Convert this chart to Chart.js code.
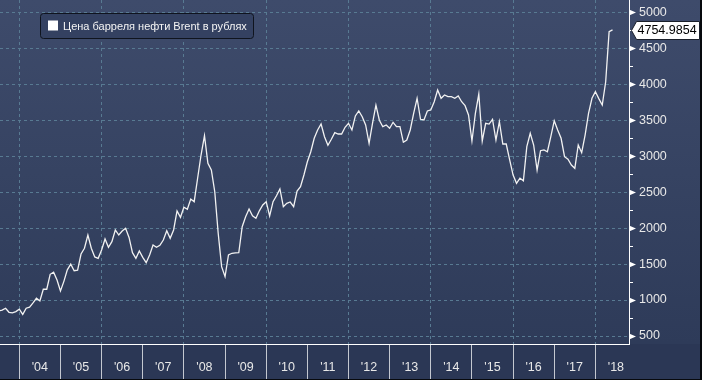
<!DOCTYPE html>
<html>
<head>
<meta charset="utf-8">
<script src="https://cdn.jsdelivr.net/npm/chart.js@4/dist/chart.umd.min.js"></script>
<style>
  html, body { margin: 0; padding: 0; background: #2b3856; }
  #wrap { width: 702px; height: 380px; position: relative; }
</style>
</head>
<body>
<div id="wrap"><canvas id="brentChart"></canvas></div>
<script>
// Brent price in rubles, monthly, Jul 2003 .. May 2018
const seriesLabel = 'Цена барреля нефти Brent в рублях';
const firstMonth = -6; // months counted from Jan 2004
const brentRub = [
  850, 860, 886, 830, 822, 840,
  872, 800, 886, 900, 960, 1025, 987, 1150, 1150, 1358, 1386, 1279,
  1126, 1260, 1420, 1500, 1408, 1415, 1640, 1720, 1904, 1720, 1600, 1580,
  1696, 1849, 1734, 1811, 1974, 1904, 1960, 1998, 1870, 1658, 1580, 1682,
  1594, 1519, 1626, 1765, 1733, 1761, 1835, 1964, 1858, 1974, 2238, 2150,
  2290, 2262, 2405, 2367, 2693, 3016, 3285, 2901, 2808, 2506, 1928, 1464,
  1325, 1626, 1650, 1655, 1658, 2020, 2159, 2266, 2170, 2136, 2240, 2322,
  2367, 2169, 2367, 2450, 2544, 2298, 2345, 2363, 2298, 2516, 2576, 2738,
  2923, 3062, 3249, 3364, 3447, 3271, 3151, 3235, 3327, 3308, 3308, 3401,
  3457, 3364, 3559, 3628, 3549, 3434, 3179, 3457, 3710, 3500, 3410, 3434,
  3388, 3471, 3410, 3410, 3193, 3225, 3364, 3596, 3805, 3513, 3503, 3628,
  3642, 3757, 3920, 3805, 3850, 3827, 3827, 3805, 3837, 3757, 3702, 3572,
  3211, 3596, 3864, 3211, 3457, 3447, 3513, 3225, 3479, 3169, 3169, 2947,
  2738, 2623, 2693, 2659, 3132, 3318, 3155, 2808, 3076, 3086, 3062, 3271,
  3493, 3364, 3249, 2993, 2957, 2877, 2831, 3155, 3048, 3294, 3596, 3805,
  3896, 3800, 3711, 4035, 4730, 4754.9854
];
const years = [2004, 2005, 2006, 2007, 2008, 2009, 2010, 2011, 2012, 2013, 2014, 2015, 2016, 2017, 2018];
const yLabels = [500, 1000, 1500, 2000, 2500, 3000, 3500, 4000, 4500, 5000];

const points = brentRub.map((v, i) => ({ x: firstMonth + i, y: v }));

const gridColor = '#587a92';
const labelColor = '#e8e8e8';
const axisFont = { family: "'Liberation Sans', Arial, sans-serif", size: 12.5 };

// background gradient + darker strip under the date axis
const chartBg = {
    id: 'chartBg',
    beforeDraw(chart) {
        const { ctx, width, height, chartArea } = chart;
        const g = ctx.createLinearGradient(0, 0, 0, chartArea.bottom);
        g.addColorStop(0, '#3e4b6b');
        g.addColorStop(1, '#2e3b59');
        ctx.save();
        ctx.fillStyle = g;
        ctx.fillRect(0, 0, width, chartArea.bottom);
        ctx.fillStyle = '#2b3755';
        ctx.fillRect(0, chartArea.bottom, width, height - chartArea.bottom);
        ctx.restore();
    }
};

// boxed legend in the top-left corner
const legendBox = {
    id: 'legendBox',
    afterDatasetsDraw(chart) {
        const c = chart.ctx;
        c.save();
        c.beginPath();
        c.roundRect(40.5, 13.5, 213, 25, 3);
        c.fillStyle = '#344161';
        c.fill();
        c.strokeStyle = '#0f141e';
        c.lineWidth = 1;
        c.stroke();
        c.fillStyle = '#ffffff';
        c.fillRect(48, 20.5, 10, 10);
        c.font = "11px 'Liberation Sans', Arial, sans-serif";
        c.textBaseline = 'middle';
        c.fillStyle = '#f4f4f4';
        c.fillText(chart.data.datasets[0].label, 63, 26.5);
        c.restore();
    }
};

// arrow marks on the value axis and the last-value tag
const axisMarks = {
    id: 'axisMarks',
    afterDraw(chart) {
        const c = chart.ctx;
        const ys = chart.scales.y;
        const x0 = ys.left;
        c.save();
        c.fillStyle = '#ffffff';
        yLabels.forEach(v => {
            const p = Math.round(ys.getPixelForValue(v)) + 0.5;
            c.beginPath();
            c.moveTo(x0, p - 3);
            c.lineTo(x0 + 7, p);
            c.lineTo(x0, p + 3);
            c.closePath();
            c.fill();
        });

        const data = chart.data.datasets[0].data;
        const last = data[data.length - 1].y;
        const p = Math.round(ys.getPixelForValue(last)) + 0.5;
        c.beginPath();
        c.moveTo(x0 + 2.5, p);
        c.lineTo(x0 + 7.5, p - 9);
        c.lineTo(699.5, p - 9);
        c.lineTo(699.5, p + 9);
        c.lineTo(x0 + 7.5, p + 9);
        c.closePath();
        c.fillStyle = '#ffffff';
        c.fill();
        c.strokeStyle = '#1a1f2a';
        c.lineWidth = 1;
        c.stroke();
        c.fillStyle = '#000000';
        c.font = "12.5px 'Liberation Sans', Arial, sans-serif";
        c.textBaseline = 'middle';
        c.fillText(last.toFixed(4), x0 + 8.5, p + 0.5);

        // frame edges
        c.fillStyle = '#07090d';
        c.fillRect(0, chart.height - 1, chart.width, 1);
        c.fillRect(chart.width - 2, 0, 2, chart.height);
        c.restore();
    }
};

const ctx = document.getElementById('brentChart').getContext('2d');
new Chart(ctx, {
    type: 'line',
    data: {
        datasets: [{
            label: seriesLabel,
            data: points,
            borderColor: '#f2f2f2',
            borderWidth: 1.3,
            pointRadius: 0,
            tension: 0
        }]
    },
    options: {
        responsive: true,
        maintainAspectRatio: false,
        animation: false,
        layout: { padding: 0 },
        plugins: { legend: { display: false }, tooltip: { enabled: false } },
        scales: {
            x: {
                type: 'linear',
                position: 'bottom',
                min: -5.63,
                max: 177.8,
                afterBuildTicks: s => { s.ticks = years.map(y => ({ value: (y - 2004) * 12 })); },
                afterFit: s => { s.height = 36; s.paddingLeft = 0; s.paddingRight = 0; },
                grid: {
                    color: c => (c.tick && (c.tick.value / 12) % 2 === 0) ? gridColor : 'rgba(0,0,0,0)',
                    tickColor: '#c4c8d0',
                    tickLength: 36
                },
                border: { color: '#ffffff', dash: [3, 3] },
                ticks: {
                    color: labelColor,
                    font: axisFont,
                    padding: -19.5,
                    labelOffset: 20.5,
                    autoSkip: false,
                    maxRotation: 0,
                    callback: v => "'" + String(2004 + v / 12).slice(2)
                }
            },
            y: {
                type: 'linear',
                position: 'right',
                min: 389,
                max: 5171,
                afterBuildTicks: s => {
                    const t = [];
                    for (let v = yLabels[0]; v <= yLabels[yLabels.length - 1]; v += 250) t.push({ value: v });
                    s.ticks = t;
                },
                afterFit: s => { s.width = 73; s.paddingTop = 0; s.paddingBottom = 0; },
                grid: {
                    color: c => (c.tick && yLabels.includes(c.tick.value)) ? gridColor : 'rgba(0,0,0,0)',
                    tickColor: '#ffffff',
                    tickLength: 4
                },
                border: { color: '#ffffff', dash: [3, 3] },
                ticks: {
                    color: labelColor,
                    font: axisFont,
                    padding: 6,
                    callback: v => yLabels.includes(v) ? String(v) : ''
                }
            }
        }
    },
    plugins: [chartBg, legendBox, axisMarks]
});
</script>
</body>
</html>
